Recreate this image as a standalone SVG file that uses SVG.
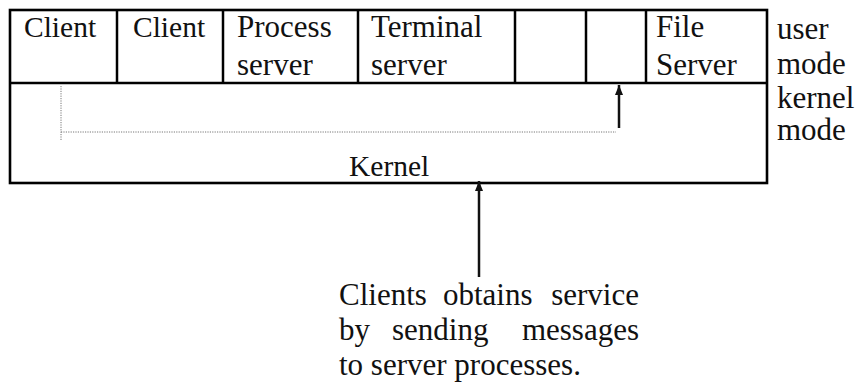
<svg xmlns="http://www.w3.org/2000/svg" width="859" height="384" viewBox="0 0 859 384">
<style>
text{font-family:'Liberation Serif','Times New Roman',serif;font-size:31px;fill:#111}
.nar{font-size:29.5px}
.box{fill:none;stroke:#000;stroke-width:2.6}
.div{stroke:#000;stroke-width:2.5}
.dot{fill:none;stroke:#777;stroke-width:1;stroke-dasharray:1.2 1.2}
.arr{stroke:#111;stroke-width:2.5;fill:none}
</style>
<defs>
<marker id="ah" viewBox="0 0 10 8" refX="10" refY="4" markerWidth="4" markerHeight="3.2" orient="auto" markerUnits="strokeWidth">
<path d="M0,0 L10,4 L0,8 Z" fill="#111"/>
</marker>
</defs>
<g id="system">
<rect class="box" x="10" y="10" width="757" height="173"/>
<line class="div" x1="10" y1="83" x2="767" y2="83"/>
</g>
<g id="client1">
<text class="nar" x="24" y="37">Client</text>
</g>
<g id="client2">
<line class="div" x1="117" y1="10" x2="117" y2="83"/>
<text class="nar" x="133" y="37">Client</text>
</g>
<g id="process-server">
<line class="div" x1="223" y1="10" x2="223" y2="83"/>
<text x="237" y="37">Process</text>
<text x="237" y="75">server</text>
</g>
<g id="terminal-server">
<line class="div" x1="358" y1="10" x2="358" y2="83"/>
<text x="371" y="37">Terminal</text>
<text x="371" y="75">server</text>
</g>
<g id="empty1">
<line class="div" x1="515" y1="10" x2="515" y2="83"/>
</g>
<g id="empty2">
<line class="div" x1="586" y1="10" x2="586" y2="83"/>
</g>
<g id="file-server">
<line class="div" x1="646" y1="10" x2="646" y2="83"/>
<text x="656" y="37">File</text>
<text x="656" y="75">Server</text>
</g>
<g id="kernel">
<text class="nar" x="349" y="176">Kernel</text>
</g>
<g id="mode-labels">
<text x="777" y="39">user</text>
<text x="777" y="74">mode</text>
<text x="777" y="108">kernel</text>
<text x="777" y="140">mode</text>
</g>
<g id="note">
<text y="305"><tspan x="339">Clients</tspan><tspan x="443">obtains</tspan><tspan x="639" text-anchor="end">service</tspan></text>
<text y="340"><tspan x="339">by</tspan><tspan x="392">sending</tspan><tspan x="639" text-anchor="end">messages</tspan></text>
<text x="339" y="375">to server processes.</text>
</g>
<g id="connectors">
<polyline class="dot" points="61,86 61,140"/>
<polyline class="dot" points="61,132 616,132"/>
<line class="arr" x1="619" y1="128" x2="619" y2="85" marker-end="url(#ah)"/>
<line class="arr" x1="479" y1="277" x2="479" y2="181" marker-end="url(#ah)"/>
</g>
</svg>
